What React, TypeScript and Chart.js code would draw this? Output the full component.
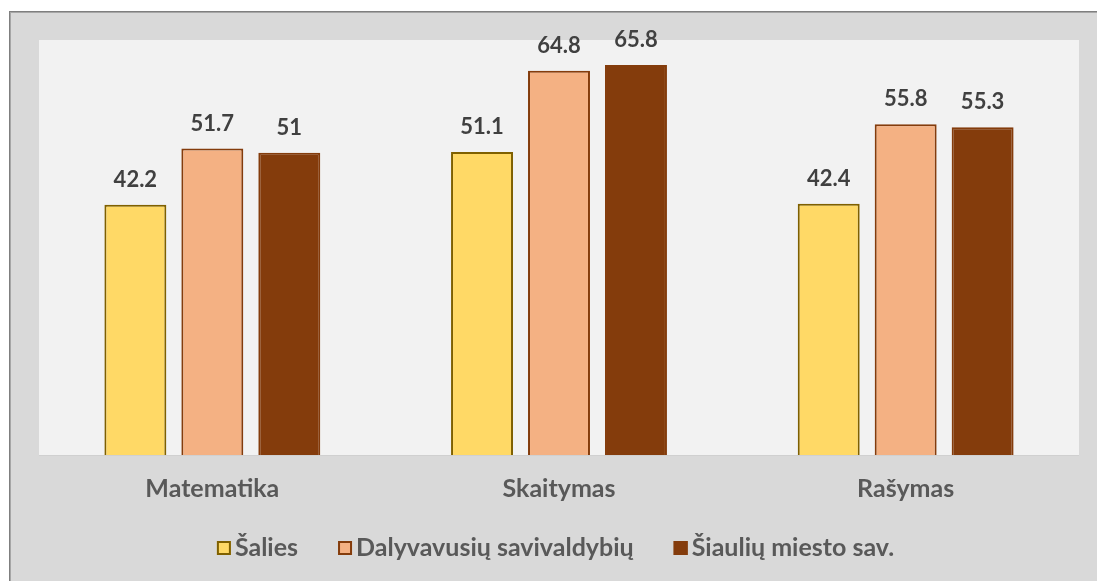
import React, { useEffect, useRef } from "react";
import { Chart, registerables } from "chart.js";

Chart.register(...registerables);

const categories = ["Matematika", "Skaitymas", "Rašymas"];
const seriesNames = ["Šalies", "Dalyvavusių savivaldybių", "Šiaulių miesto sav."];
const salies = [42.2, 51.1, 42.4];
const dalyvavusiu = [51.7, 64.8, 55.8];
const siauliu = [51, 65.8, 55.3];
const fillColors = ["#FFD966", "#F4B183", "#843C0C"];
const borderColors = ["#7F6000", "#843C0C", "#843C0C"];

const FONT = "Lato, 'Open Sans', sans-serif";

export default function App() {
  const ref = useRef<HTMLCanvasElement | null>(null);

  useEffect(() => {
    if (!ref.current) return;
    const plotBg = {
      id: "plotBg",
      beforeDraw(chart: any) {
        const { ctx, chartArea } = chart;
        ctx.save();
        ctx.fillStyle = "#F2F2F2";
        ctx.fillRect(chartArea.left, chartArea.top, chartArea.right - chartArea.left, chartArea.bottom - chartArea.top);
        ctx.strokeStyle = "#D0D0D0";
        ctx.lineWidth = 1;
        ctx.beginPath();
        ctx.moveTo(chartArea.left, chartArea.bottom + 0.5);
        ctx.lineTo(chartArea.right, chartArea.bottom + 0.5);
        ctx.stroke();
        ctx.restore();
      },
    };
    const dataLabels = {
      id: "dataLabels",
      afterDatasetsDraw(chart: any) {
        const { ctx } = chart;
        ctx.save();
        ctx.font = `bold 22px ${FONT}`;
        ctx.fillStyle = "#404040";
        ctx.textAlign = "center";
        ctx.textBaseline = "middle";
        chart.data.datasets.forEach((ds: any, i: number) => {
          const meta = chart.getDatasetMeta(i);
          meta.data.forEach((el: any, j: number) => {
            ctx.fillText(String(ds.data[j]), el.x, el.y - 25);
          });
        });
        ctx.restore();
      },
    };
    const customLegend = {
      id: "customLegend",
      afterDraw(chart: any) {
        const { ctx } = chart;
        ctx.save();
        ctx.font = `bold 25px ${FONT}`;
        ctx.textBaseline = "middle";
        ctx.textAlign = "left";
        const box = 14;
        const gap = 4;
        const spacing = 40;
        const items = chart.data.datasets.map((ds: any) => ({
          label: ds.label,
          fill: ds.backgroundColor,
          stroke: ds.borderColor,
          w: ctx.measureText(ds.label).width,
        }));
        const total = items.reduce((s: number, it: any) => s + box + gap + it.w, 0) + spacing * (items.length - 1);
        let x = 555.5 - total / 2;
        const cy = 548;
        items.forEach((it: any) => {
          ctx.fillStyle = it.fill;
          ctx.fillRect(x, cy - box / 2, box, box);
          ctx.strokeStyle = it.stroke;
          ctx.lineWidth = 2;
          ctx.strokeRect(x + 1, cy - box / 2 + 1, box - 2, box - 2);
          ctx.fillStyle = "#595959";
          ctx.fillText(it.label, x + box + gap, cy);
          x += box + gap + it.w + spacing;
        });
        ctx.restore();
      },
    };

    const values = [salies, dalyvavusiu, siauliu];
    const chart = new Chart(ref.current, {
      type: "bar",
      data: {
        labels: categories,
        datasets: seriesNames.map((name, i) => ({
          label: name,
          data: values[i],
          backgroundColor: fillColors[i],
          borderColor: borderColors[i],
          borderWidth: 2,
          categoryPercentage: 0.666,
          barPercentage: 0.805,
        })),
      },
      options: {
        responsive: false,
        animation: false,
        layout: { padding: { left: 39, right: 18, top: 40, bottom: 66 } },
        plugins: {
          legend: { display: false },
          tooltip: { enabled: false },
        },
        scales: {
          x: {
            grid: { display: false, drawTicks: false },
            border: { display: false },
            ticks: {
              color: "#595959",
              font: { family: FONT, size: 25, weight: "bold" },
              padding: 19,
            },
            afterFit(scale: any) {
              scale.height = 60;
            },
          },
          y: {
            display: false,
            min: 0,
            max: 70,
          },
        },
      },
      plugins: [plotBg, dataLabels, customLegend],
    });
    return () => chart.destroy();
  }, []);

  return (
    <div style={{ position: "fixed", left: 0, top: 0, width: 1097, height: 581, background: "#ffffff", overflow: "hidden" }}>
      <div
        style={{
          position: "absolute",
          left: 9,
          top: 11,
          width: 1100,
          height: 580,
          background: "#D9D9D9",
          borderLeft: "1px solid #7F7F7F",
          borderTop: "1px solid #7F7F7F",
          boxShadow: "inset 1px 1px 0 #A6A6A6",
        }}
      />
      <canvas ref={ref} width={1097} height={581} style={{ position: "absolute", left: 0, top: 0 }} />
    </div>
  );
}
